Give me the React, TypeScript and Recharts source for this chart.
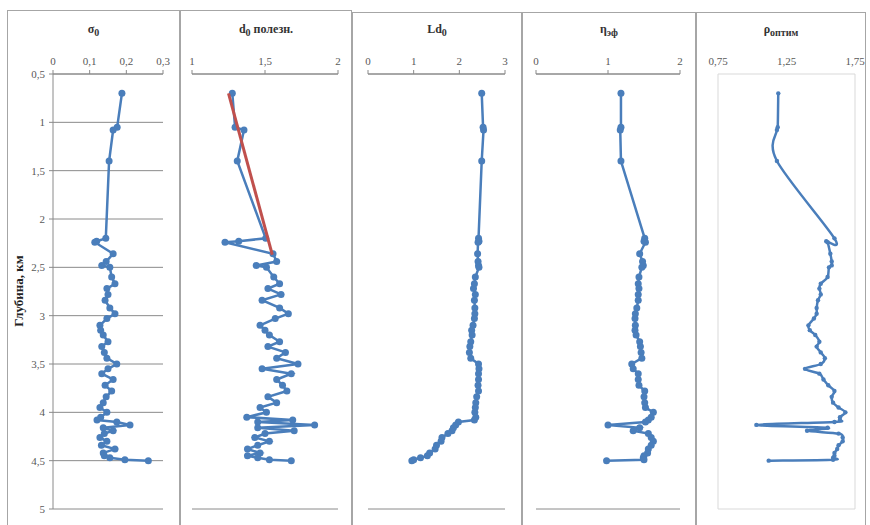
import React from "react";
import { ScatterChart, Scatter, XAxis, YAxis, CartesianGrid } from "recharts";

// shared depths (km), one value per depth in each panel
const DEPTH = [0.7, 1.05, 1.08, 1.4, 2.2, 2.23, 2.24, 2.36, 2.44, 2.48, 2.5, 2.6, 2.67, 2.72, 2.78, 2.84, 2.92, 2.98, 3.03, 3.1, 3.15, 3.2, 3.27, 3.32, 3.38, 3.44, 3.5, 3.55, 3.6, 3.66, 3.72, 3.78, 3.84, 3.9, 3.95, 4.0, 4.05, 4.08, 4.1, 4.13, 4.16, 4.19, 4.22, 4.26, 4.3, 4.34, 4.38, 4.42, 4.45, 4.47, 4.49, 4.5];

const SIGMA = [0.188, 0.175, 0.164, 0.153, 0.144, 0.119, 0.114, 0.164, 0.145, 0.133, 0.155, 0.16, 0.169, 0.147, 0.15, 0.142, 0.155, 0.169, 0.147, 0.128, 0.13, 0.137, 0.15, 0.133, 0.14, 0.147, 0.174, 0.15, 0.133, 0.164, 0.142, 0.16, 0.145, 0.137, 0.128, 0.147, 0.13, 0.12, 0.174, 0.21, 0.137, 0.164, 0.14, 0.128, 0.147, 0.132, 0.169, 0.137, 0.14, 0.155, 0.196, 0.26];

const D0 = [1.276, 1.295, 1.356, 1.31, 1.505, 1.32, 1.226, 1.555, 1.58, 1.44, 1.51, 1.56, 1.6, 1.52, 1.61, 1.48, 1.6, 1.66, 1.57, 1.466, 1.5, 1.53, 1.6, 1.52, 1.64, 1.58, 1.726, 1.48, 1.68, 1.58, 1.62, 1.65, 1.52, 1.58, 1.466, 1.51, 1.375, 1.69, 1.45, 1.84, 1.45, 1.7, 1.5, 1.43, 1.53, 1.45, 1.38, 1.466, 1.38, 1.45, 1.53, 1.68];

const LD0 = [2.49, 2.52, 2.53, 2.49, 2.42, 2.43, 2.41, 2.4, 2.41, 2.42, 2.43, 2.35, 2.33, 2.31, 2.35, 2.33, 2.34, 2.34, 2.33, 2.3, 2.27, 2.28, 2.25, 2.23, 2.22, 2.25, 2.42, 2.43, 2.42, 2.42, 2.41, 2.42, 2.38, 2.36, 2.35, 2.34, 2.36, 2.33, 1.98, 1.92, 1.87, 1.84, 1.75, 1.62, 1.6, 1.5, 1.47, 1.35, 1.3, 1.15, 1.0, 0.96];

const ETA = [1.18, 1.18, 1.17, 1.18, 1.51, 1.5, 1.52, 1.44, 1.48, 1.49, 1.47, 1.43, 1.42, 1.43, 1.42, 1.42, 1.4, 1.38, 1.375, 1.38, 1.375, 1.39, 1.44, 1.45, 1.46, 1.47, 1.33, 1.35, 1.42, 1.42, 1.43, 1.51, 1.5, 1.51, 1.52, 1.63, 1.6, 1.56, 1.52, 1.0, 1.44, 1.35, 1.56, 1.6, 1.63, 1.6, 1.56, 1.55, 1.5, 1.49, 1.5, 0.98];

const RHO = [1.19, 1.186, 1.18, 1.18, 1.6, 1.54, 1.55, 1.57, 1.58, 1.58, 1.56, 1.55, 1.5, 1.49, 1.5, 1.48, 1.47, 1.47, 1.45, 1.41, 1.42, 1.46, 1.49, 1.47, 1.5, 1.53, 1.5, 1.385, 1.49, 1.52, 1.555, 1.6, 1.58, 1.59, 1.63, 1.68, 1.64, 1.64, 1.6, 1.03, 1.55, 1.4, 1.63, 1.66, 1.66, 1.63, 1.62, 1.6, 1.6, 1.59, 1.59, 1.12];

// red trend line on the d0 panel
const TREND_DEPTH = [0.7, 2.37];
const TREND_D0 = [1.25, 1.55];

const DEPTH_TICKS = [0.5, 1, 1.5, 2, 2.5, 3, 3.5, 4, 4.5, 5];
const SIGMA_TICKS = [0, 0.1, 0.2, 0.3];
const D0_TICKS = [1, 1.5, 2];
const LD0_TICKS = [0, 1, 2, 3];
const ETA_TICKS = [0, 1, 2];
const RHO_TICKS = [0.75, 1.25, 1.75];

const BLUE = "#4A7EBB";
const RED = "#C0504D";
const FONT = '"Liberation Serif", "Times New Roman", serif';

const fmt = (v: number) => String(v).replace(".", ",");
const toPoints = (ds: number[], vs: number[]) => ds.map((d, i) => ({ d, v: vs[i] }));

// Excel-like smoothed line (Catmull-Rom), used as a d3 curve factory
const smoothCurve = (context: any) => {
  let pts: number[][] = [];
  return {
    areaStart() {},
    areaEnd() {},
    lineStart() {
      pts = [];
    },
    point(x: number, y: number) {
      pts.push([+x, +y]);
    },
    lineEnd() {
      if (!pts.length) return;
      context.moveTo(pts[0][0], pts[0][1]);
      for (let i = 0; i < pts.length - 1; i++) {
        const p0 = pts[i - 1] || pts[i];
        const p1 = pts[i];
        const p2 = pts[i + 1];
        const p3 = pts[i + 2] || p2;
        context.bezierCurveTo(
          p1[0] + (p2[0] - p0[0]) / 6,
          p1[1] + (p2[1] - p0[1]) / 6,
          p2[0] - (p3[0] - p1[0]) / 6,
          p2[1] - (p3[1] - p1[1]) / 6,
          p2[0],
          p2[1]
        );
      }
    },
  };
};

interface PanelProps {
  left: number;
  width: number;
  borderTop: number;
  title: React.ReactNode;
  values: number[];
  ticks: number[];
  marginLeft: number;
  marginRight: number;
  yWidth: number;
  showYLabels?: boolean;
  boxed?: boolean;
  markerR: number;
  trend?: { d: number; v: number }[];
}

const Panel: React.FC<PanelProps> = ({
  left,
  width,
  borderTop,
  title,
  values,
  ticks,
  marginLeft,
  marginRight,
  yWidth,
  showYLabels,
  boxed,
  markerR,
  trend,
}) => {
  const gridColor = boxed ? "#d9d9d9" : "#8a8a8a";
  const tickStyle = { fill: "#595959", fontSize: 11, fontFamily: FONT };
  return (
    <div style={{ position: "absolute", left, top: 0, width, height: 525 }}>
      <div
        style={{
          position: "absolute",
          left: 0,
          top: borderTop,
          width,
          height: 540,
          border: "1px solid #a6a6a6",
          boxSizing: "border-box",
        }}
      />
      <div
        style={{
          position: "absolute",
          left: 0,
          top: 22,
          width,
          textAlign: "center",
          fontFamily: FONT,
          fontWeight: "bold",
          fontSize: 12,
          color: "#333",
        }}
      >
        {title}
      </div>
      <ScatterChart
        width={width}
        height={525}
        margin={{ top: 40, right: marginRight, bottom: 16, left: marginLeft }}
        style={{ position: "absolute", left: 0, top: 0 }}
      >
        <CartesianGrid
          stroke={gridColor}
          vertical={!!boxed}
          verticalCoordinatesGenerator={({ offset }: any) => [offset.left, offset.left + offset.width]}
        />
        <XAxis
          type="number"
          dataKey="v"
          orientation="top"
          domain={[ticks[0], ticks[ticks.length - 1]]}
          ticks={ticks}
          tickFormatter={fmt}
          height={34}
          tickSize={4}
          tickMargin={5}
          axisLine={boxed ? false : { stroke: "#8a8a8a" }}
          tickLine={boxed ? false : { stroke: "#8a8a8a" }}
          tick={tickStyle}
          allowDataOverflow
        />
        <YAxis
          type="number"
          dataKey="d"
          domain={[0.5, 5]}
          ticks={DEPTH_TICKS}
          reversed
          width={yWidth}
          tickFormatter={fmt}
          tickSize={4}
          tickMargin={4}
          axisLine={boxed ? false : { stroke: "#8a8a8a" }}
          tickLine={boxed ? false : { stroke: "#8a8a8a" }}
          tick={showYLabels ? tickStyle : false}
          allowDataOverflow
        />
        <Scatter
          data={toPoints(DEPTH, values)}
          line={{ stroke: BLUE, strokeWidth: 2.5 }}
          lineJointType={(boxed ? smoothCurve : "linear") as any}
          shape={(p: any) => <circle cx={p.cx} cy={p.cy} r={markerR} fill={BLUE} />}
          isAnimationActive={false}
        />
        {trend && (
          <Scatter
            data={trend}
            line={{ stroke: RED, strokeWidth: 3 }}
            shape={() => <g />}
            isAnimationActive={false}
          />
        )}
      </ScatterChart>
    </div>
  );
};

export default function App() {
  return (
    <div
      style={{
        position: "absolute",
        left: 0,
        top: 0,
        width: 870,
        height: 525,
        background: "#fff",
        overflow: "hidden",
      }}
    >
      <Panel
        left={7}
        width={173}
        borderTop={10}
        title={<span>σ<sub>0</sub></span>}
        values={SIGMA}
        ticks={SIGMA_TICKS}
        marginLeft={10}
        marginRight={17}
        yWidth={36}
        showYLabels
        markerR={3.5}
      />
      <Panel
        left={180}
        width={172}
        borderTop={10}
        title={<span>d<sub>0</sub> полезн.</span>}
        values={D0}
        ticks={D0_TICKS}
        marginLeft={12}
        marginRight={14}
        yWidth={0}
        markerR={3.5}
        trend={toPoints(TREND_DEPTH, TREND_D0)}
      />
      <Panel
        left={352}
        width={170}
        borderTop={12}
        title={<span>Ld<sub>0</sub></span>}
        values={LD0}
        ticks={LD0_TICKS}
        marginLeft={16}
        marginRight={17}
        yWidth={0}
        markerR={3.5}
      />
      <Panel
        left={522}
        width={174}
        borderTop={12}
        title={<span>η<sub>эф</sub></span>}
        values={ETA}
        ticks={ETA_TICKS}
        marginLeft={14}
        marginRight={16}
        yWidth={0}
        markerR={3.5}
      />
      <Panel
        left={696}
        width={170}
        borderTop={12}
        title={<span>ρ<sub>оптим</sub></span>}
        values={RHO}
        ticks={RHO_TICKS}
        marginLeft={22}
        marginRight={11}
        yWidth={0}
        boxed
        markerR={2.2}
      />
      <div
        style={{
          position: "absolute",
          left: 19,
          top: 291,
          transform: "translate(-50%, -50%) rotate(-90deg)",
          fontFamily: FONT,
          fontWeight: "bold",
          fontSize: 13,
          color: "#222",
          whiteSpace: "nowrap",
        }}
      >
        Глубина, км
      </div>
    </div>
  );
}
